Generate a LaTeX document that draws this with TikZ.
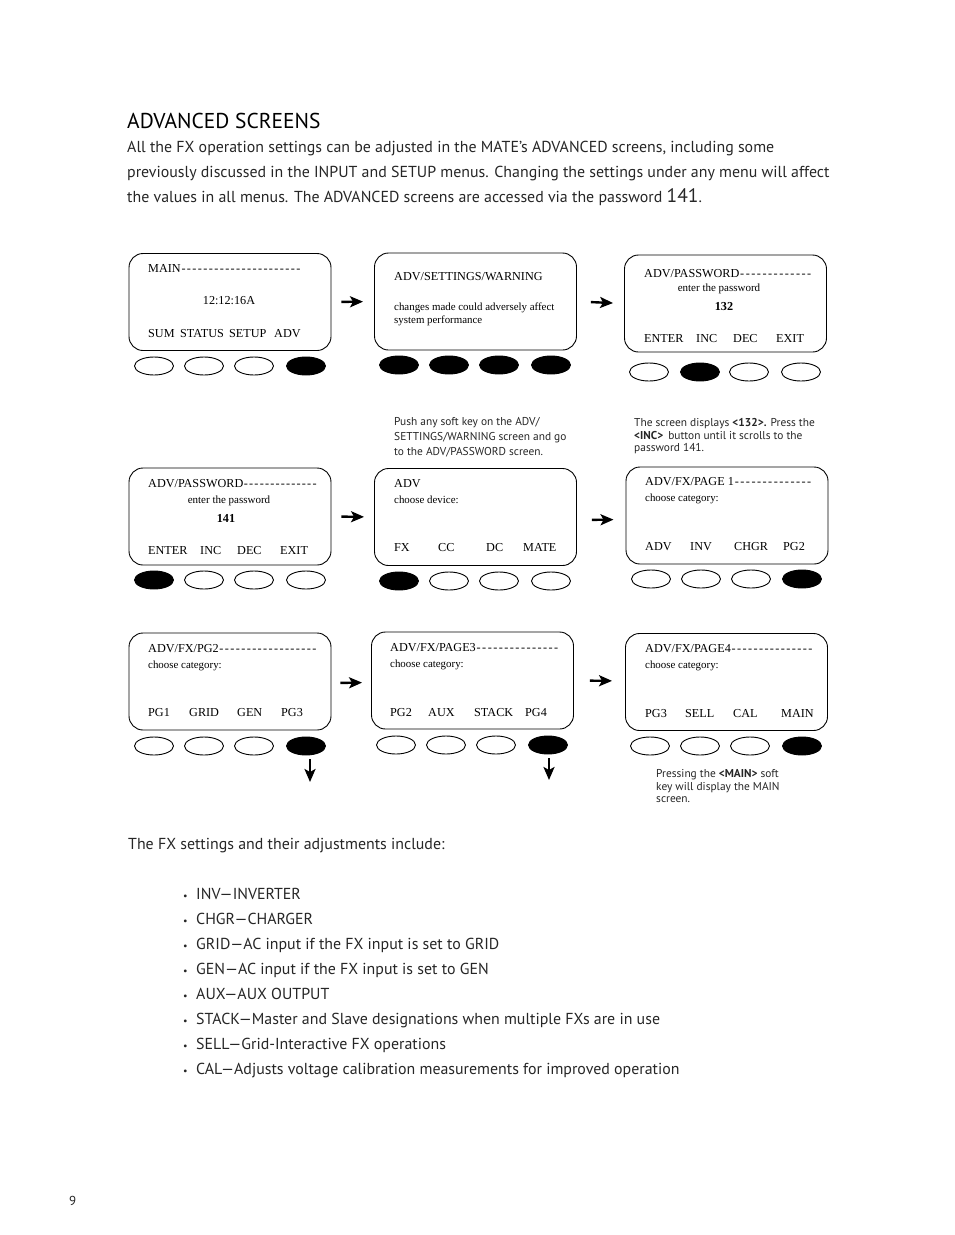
\documentclass[tikz,border=0pt]{standalone}
\usepackage{fontspec}
\setmainfont{PT Sans}
\newfontfamily\scrfont{Liberation Serif}
\usetikzlibrary{shapes.geometric,arrows.meta,calc}
\newcommand\dashrun[2]{\hbox to #1{#2\xleaders\hbox{\kern0.6pt-\kern0.6pt}\hfill}}
\begin{document}
\begin{tikzpicture}[x=1pt,y=-1pt,
 screen/.style={draw, line width=0.9pt, rounded corners=14pt, minimum width=202pt, minimum height=97pt, inner sep=0pt},
 keyoff/.style={draw, ellipse, line width=0.9pt, minimum width=39pt, minimum height=18pt, inner sep=0pt},
 keyon/.style={keyoff, fill=black},
 sbig/.style={font=\scrfont\fontsize{12.2}{14}\selectfont, anchor=base west, inner sep=0pt},
 ssmall/.style={font=\scrfont\fontsize{10.9}{12}\selectfont, anchor=base west, inner sep=0pt},
 smid/.style={font=\scrfont\fontsize{11}{12}\selectfont, anchor=base, inner sep=0pt},
 note/.style={font=\fontsize{11.4}{13}\selectfont, anchor=base west, inner sep=0pt, text=black!85},
 body/.style={font=\fontsize{15.9}{18}\selectfont, anchor=base west, inner sep=0pt, text=black!85},
 arr/.style={line width=2.4pt, -{Stealth[length=13pt,width=11pt,inset=3pt]}}
]
\useasboundingbox (0,0) rectangle (954,1235);

% heading and intro
\node[body, font=\fontsize{21.5}{24}\selectfont, text=black] (h) at (127,128.5) {ADVANCED SCREENS};
\node[body] (p1) at (127,152.5) {All the FX operation settings can be adjusted in the MATE’s ADVANCED screens, including some};
\node[body] (p2) at (127,177.5) {previously discussed in the INPUT and SETUP menus. Changing the settings under any menu will affect};
\node[body] (p3) at (127,202.5) {the values in all menus. The ADVANCED screens are accessed via the password {\fontsize{19.5}{20}\selectfont 141}.};

% screens
\node[screen] (s1) at (230,302) {};
\node[screen] (s2) at (475.5,301.5) {};
\node[screen] (s3) at (725.5,303.5) {};
\node[screen] (s4) at (230,516.5) {};
\node[screen] (s5) at (475.5,517) {};
\node[screen] (s6) at (727,515.5) {};
\node[screen] (s7) at (230,681.5) {};
\node[screen] (s8) at (472.5,680.5) {};
\node[screen] (s9) at (726.5,682) {};

% keys
\foreach \n/\x/\s in {a/154/keyoff,b/204/keyoff,c/254/keyoff,d/306/keyon} \node[\s] (k1\n) at (\x,366) {};
\foreach \n/\x/\s in {a/399/keyon,b/449/keyon,c/499/keyon,d/551/keyon} \node[\s] (k2\n) at (\x,365) {};
\foreach \n/\x/\s in {a/649/keyoff,b/700/keyon,c/749/keyoff,d/801/keyoff} \node[\s] (k3\n) at (\x,372) {};
\foreach \n/\x/\s in {a/154/keyon,b/204/keyoff,c/254/keyoff,d/306/keyoff} \node[\s] (k4\n) at (\x,580) {};
\foreach \n/\x/\s in {a/399/keyon,b/449/keyoff,c/499/keyoff,d/551/keyoff} \node[\s] (k5\n) at (\x,581) {};
\foreach \n/\x/\s in {a/651/keyoff,b/701/keyoff,c/751/keyoff,d/802/keyon} \node[\s] (k6\n) at (\x,579) {};
\foreach \n/\x/\s in {a/154/keyoff,b/204/keyoff,c/254/keyoff,d/306/keyon} \node[\s] (k7\n) at (\x,746) {};
\foreach \n/\x/\s in {a/396/keyoff,b/446/keyoff,c/496/keyoff,d/548/keyon} \node[\s] (k8\n) at (\x,745) {};
\foreach \n/\x/\s in {a/650/keyoff,b/700/keyoff,c/750/keyoff,d/802/keyon} \node[\s] (k9\n) at (\x,746) {};

% screen 1
\node[sbig] (t1a) at (148,272) {\dashrun{153pt}{MAIN}};
\node[sbig, anchor=base] (t1b) at (229,304) {12:12:16A};
\node[sbig] (t1c) at (148,337) {SUM};
\node[sbig] (t1d) at (180,337) {STATUS};
\node[sbig] (t1e) at (229,337) {SETUP};
\node[sbig] (t1f) at (274,337) {ADV};
% screen 2
\node[sbig] (t2a) at (394,280) {ADV/SETTINGS/WARNING};
\node[ssmall] (t2b) at (394,310.5) {changes made could adversely affect};
\node[ssmall] (t2c) at (394,323.5) {system performance};
% screen 3
\node[sbig] (t3a) at (644,277) {\dashrun{168pt}{ADV/PASSWORD}};
\node[smid] (t3b) at (719,291.5) {enter the password};
\node[sbig, anchor=base, font=\scrfont\bfseries\fontsize{12.2}{14}\selectfont] (t3c) at (724,310) {132};
\node[sbig] (t3d) at (644,342) {ENTER};
\node[sbig] (t3e) at (696,342) {INC};
\node[sbig] (t3f) at (733,342) {DEC};
\node[sbig] (t3g) at (776,342) {EXIT};
% screen 4
\node[sbig] (t4a) at (148,487) {\dashrun{169pt}{ADV/PASSWORD}};
\node[smid] (t4b) at (229,503.5) {enter the password};
\node[sbig, anchor=base, font=\scrfont\bfseries\fontsize{12.2}{14}\selectfont] (t4c) at (226,522) {141};
\node[sbig] (t4d) at (148,554) {ENTER};
\node[sbig] (t4e) at (200,554) {INC};
\node[sbig] (t4f) at (237,554) {DEC};
\node[sbig] (t4g) at (280,554) {EXIT};
% screen 5
\node[sbig] (t5a) at (394,487) {ADV};
\node[ssmall] (t5b) at (394,503.5) {choose device:};
\node[sbig] (t5c) at (394,551) {FX};
\node[sbig] (t5d) at (438,551) {CC};
\node[sbig] (t5e) at (486,551) {DC};
\node[sbig] (t5f) at (523,551) {MATE};
% screen 6
\node[sbig] (t6a) at (645,485) {\dashrun{167pt}{ADV/FX/PAGE 1}};
\node[ssmall] (t6b) at (645,501.5) {choose category:};
\node[sbig] (t6c) at (645,550) {ADV};
\node[sbig] (t6d) at (690,550) {INV};
\node[sbig] (t6e) at (734,550) {CHGR};
\node[sbig] (t6f) at (783,550) {PG2};
% screen 7
\node[sbig] (t7a) at (148,652) {\dashrun{169pt}{ADV/FX/PG2}};
\node[ssmall] (t7b) at (148,668.5) {choose category:};
\node[sbig] (t7c) at (148,716) {PG1};
\node[sbig] (t7d) at (189,716) {GRID};
\node[sbig] (t7e) at (237,716) {GEN};
\node[sbig] (t7f) at (281,716) {PG3};
% screen 8
\node[sbig] (t8a) at (390,651) {\dashrun{169pt}{ADV/FX/PAGE3}};
\node[ssmall] (t8b) at (390,667.5) {choose category:};
\node[sbig] (t8c) at (390,716) {PG2};
\node[sbig] (t8d) at (428,716) {AUX};
\node[sbig] (t8e) at (474,716) {STACK};
\node[sbig] (t8f) at (525,716) {PG4};
% screen 9
\node[sbig] (t9a) at (645,652) {\dashrun{168pt}{ADV/FX/PAGE4}};
\node[ssmall] (t9b) at (645,668.5) {choose category:};
\node[sbig] (t9c) at (645,717) {PG3};
\node[sbig] (t9d) at (685,717) {SELL};
\node[sbig] (t9e) at (733,717) {CAL};
\node[sbig] (t9f) at (781,717) {MAIN};

% arrows
\draw[arr, shorten <=10pt, shorten >=11pt] (s1.east) -- (s2.west);
\draw[arr, shorten <=14pt, shorten >=11pt] (s2.east) -- (s3.west);
\draw[arr, shorten <=10pt, shorten >=10pt] (s4.east) -- (s5.west);
\draw[arr, shorten <=15pt, shorten >=12pt] ([yshift=-3pt]s5.east) -- ([yshift=-4pt]s6.west);
\draw[arr, shorten <=9pt, shorten >=9pt] ([yshift=-1.5pt]s7.east) -- ([yshift=-2pt]s8.west);
\draw[arr, shorten <=16pt, shorten >=13pt] (s8.east) -- ([yshift=1pt]s9.west);
\coordinate (e1) at (310,782);
\coordinate (e2) at (549,780);
\draw[arr, shorten <=4pt] ([xshift=4pt]k7d.south) -- (e1);
\draw[arr, shorten <=4pt] ([xshift=1pt]k8d.south) -- (e2);

% notes
\node[note] (n1a) at (394,425) {Push any soft key on the ADV/};
\node[note] (n1b) at (394,440) {SETTINGS/WARNING screen and go};
\node[note] (n1c) at (394,455) {to the ADV/PASSWORD screen.};
\node[note] (n2a) at (634,426) {The screen displays \textbf{<132>.} Press the};
\node[note] (n2b) at (634,439) {\textbf{<INC>}\, button until it scrolls to the};
\node[note] (n2c) at (634,451) {password 141.};
\node[note] (n3a) at (656,777) {Pressing the \textbf{<MAIN>} soft};
\node[note] (n3b) at (656,790) {key will display the MAIN};
\node[note] (n3c) at (656,802) {screen.};

% list
\node[body] (l0) at (128,849.5) {The FX settings and their adjustments include:};
\foreach \i/\t in {0/INV—INVERTER,1/CHGR—CHARGER,2/GRID—AC input if the FX input is set to GRID,3/GEN—AC input if the FX input is set to GEN,4/AUX—AUX OUTPUT,5/STACK—Master and Slave designations when multiple FXs are in use,6/SELL—Grid-Interactive FX operations,7/CAL—Adjusts voltage calibration measurements for improved operation}{
  \node[body, font=\fontsize{10}{12}\selectfont] (bu\i) at (183,899.5+25*\i) {•};
  \node[body] (li\i) at (196,899.5+25*\i) {\t};
}
\node[body, font=\fontsize{13}{15}\selectfont] (pg) at (69,1205) {9};
\end{tikzpicture}
\end{document}
